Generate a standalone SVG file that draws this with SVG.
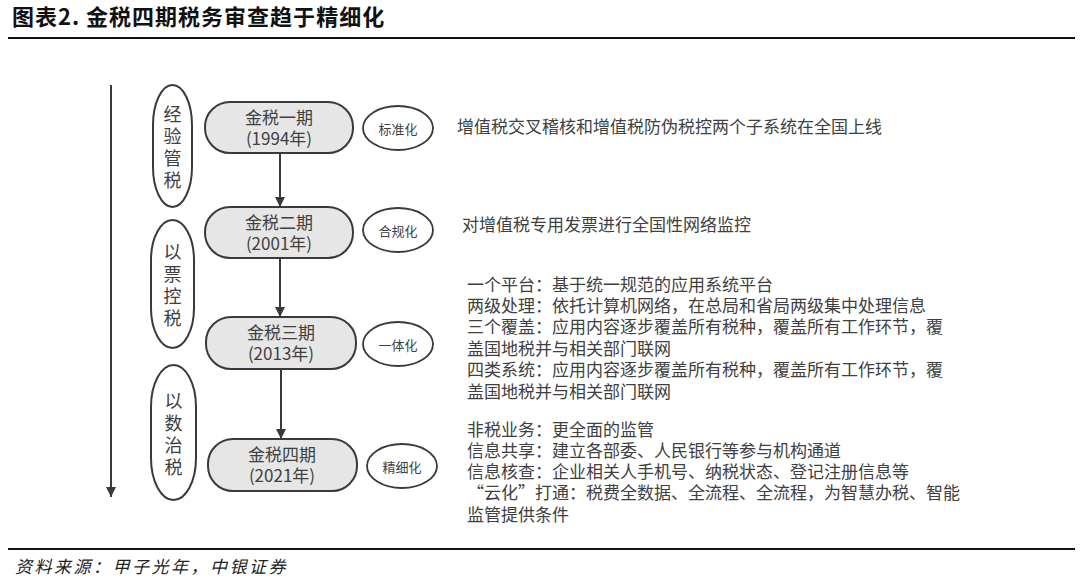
<svg xmlns="http://www.w3.org/2000/svg" width="1080" height="580" viewBox="0 0 1080 580">
<style>
text{font-family:"Noto Sans CJK SC","Noto Sans",sans-serif;fill:#404040;}
.title{font-size:22px;font-weight:700;fill:#111;letter-spacing:1px;}
.src{font-size:17px;font-style:italic;fill:#222;letter-spacing:2.5px;}
.box{fill:#e6e6e6;stroke:#3a3a3a;stroke-width:2;}
.phase{fill:#fff;stroke:#3a3a3a;stroke-width:2;}
.tag{fill:#fff;stroke:#3a3a3a;stroke-width:1.8;}
.bt{font-size:17px;text-anchor:middle;}
.pt{font-size:18px;text-anchor:middle;writing-mode:vertical-rl;letter-spacing:4px;}
.tt{font-size:13px;text-anchor:middle;dominant-baseline:central;}
.desc{font-size:17px;}
.rule{stroke:#111;stroke-width:2;}
.conn{stroke:#3a3a3a;stroke-width:2;fill:none;}
</style>
<defs>
<marker id="ah" viewBox="0 0 10 10" refX="10" refY="5" markerWidth="5" markerHeight="5" markerUnits="strokeWidth" orient="auto">
<path d="M0,0 L10,5 L0,10 z" fill="#3a3a3a"/>
</marker>
</defs>
<rect width="1080" height="580" fill="#fff"/>
<g id="header">
<text class="title" x="12" y="25">图表2. 金税四期税务审查趋于精细化</text>
<line class="rule" x1="8" y1="38" x2="1075" y2="38"/>
</g>
<g id="connectors">
<line class="conn" x1="111" y1="85" x2="111" y2="497" marker-end="url(#ah)"/>
<line class="conn" x1="280" y1="153" x2="280" y2="207" marker-end="url(#ah)"/>
<line class="conn" x1="280" y1="258" x2="280" y2="317" marker-end="url(#ah)"/>
<line class="conn" x1="281" y1="369" x2="281" y2="439" marker-end="url(#ah)"/>
</g>
<g id="phase1">
<rect class="phase" x="153" y="85" width="39" height="122" rx="19.5" ry="40"/>
<text class="pt" x="172.5" y="149">经验管税</text>
</g>
<g id="phase2">
<rect class="phase" x="151" y="220" width="43" height="128" rx="21.5" ry="40"/>
<text class="pt" x="172.5" y="287">以票控税</text>
</g>
<g id="phase3">
<rect class="phase" x="151" y="365" width="45" height="135" rx="22.5" ry="42"/>
<text class="pt" x="173.5" y="436">以数治税</text>
</g>
<g id="stage1">
<rect class="box" x="205" y="102" width="148" height="51" rx="25"/>
<text class="bt" x="279" y="124">金税一期<tspan x="279" dy="21">(1994年)</tspan></text>
</g>
<g id="stage2">
<rect class="box" x="205" y="207" width="148" height="51" rx="25"/>
<text class="bt" x="279" y="229">金税二期<tspan x="279" dy="21">(2001年)</tspan></text>
</g>
<g id="stage3">
<rect class="box" x="206" y="317" width="150" height="52" rx="25"/>
<text class="bt" x="281" y="339">金税三期<tspan x="281" dy="21">(2013年)</tspan></text>
</g>
<g id="stage4">
<rect class="box" x="208" y="439" width="149" height="52" rx="25"/>
<text class="bt" x="282" y="461">金税四期<tspan x="282" dy="21">(2021年)</tspan></text>
</g>
<g id="tag1"><ellipse class="tag" cx="398" cy="128" rx="35" ry="22"/><text class="tt" x="398" y="128">标准化</text></g>
<g id="tag2"><ellipse class="tag" cx="398" cy="230" rx="35" ry="22"/><text class="tt" x="398" y="230">合规化</text></g>
<g id="tag3"><ellipse class="tag" cx="398" cy="344" rx="35" ry="22"/><text class="tt" x="398" y="344">一体化</text></g>
<g id="tag4"><ellipse class="tag" cx="402" cy="466" rx="35" ry="22"/><text class="tt" x="402" y="466">精细化</text></g>
<g id="desc1"><text class="desc" x="457" y="133">增值税交叉稽核和增值税防伪税控两个子系统在全国上线</text></g>
<g id="desc2"><text class="desc" x="462" y="231">对增值税专用发票进行全国性网络监控</text></g>
<g id="desc3">
<text class="desc" x="467" y="291">一个平台：基于统一规范的应用系统平台<tspan x="467" dy="21">两级处理：依托计算机网络，在总局和省局两级集中处理信息</tspan><tspan x="467" dy="21">三个覆盖：应用内容逐步覆盖所有税种，覆盖所有工作环节，覆</tspan><tspan x="467" dy="21.5">盖国地税并与相关部门联网</tspan><tspan x="467" dy="21.5">四类系统：应用内容逐步覆盖所有税种，覆盖所有工作环节，覆</tspan><tspan x="467" dy="21.5">盖国地税并与相关部门联网</tspan></text>
</g>
<g id="desc4">
<text class="desc" x="467" y="436">非税业务：更全面的监管<tspan x="467" dy="21">信息共享：建立各部委、人民银行等参与机构通道</tspan><tspan x="467" dy="21">信息核查：企业相关人手机号、纳税状态、登记注册信息等</tspan><tspan x="467" dy="21">“云化”打通：税费全数据、全流程、全流程，为智慧办税、智能</tspan><tspan x="467" dy="22">监管提供条件</tspan></text>
</g>
<g id="footer">
<line class="rule" x1="8" y1="549" x2="1075" y2="549"/>
<text class="src" x="15" y="573">资料来源：甲子光年，中银证券</text>
</g>
</svg>
